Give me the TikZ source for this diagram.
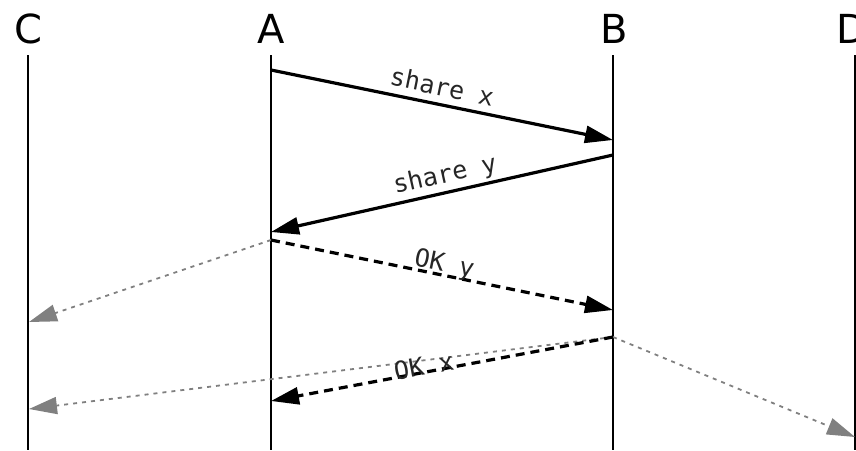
\documentclass[tikz,border=0pt]{standalone}
\usepackage{fontspec}
\setmainfont{DejaVu Sans}
\newfontfamily\monof{DejaVu Sans Mono}
\usetikzlibrary{arrows.meta}
\begin{document}
\begin{tikzpicture}[x=1pt,y=-1pt,
  head/.style={font=\fontsize{40}{44}\selectfont, inner sep=0pt},
  life/.style={line width=1.6pt},
  msg/.style={line width=3.2pt, -{Triangle[length=28pt,width=17pt]}},
  msgd/.style={msg, dash pattern=on 9pt off 6pt},
  echo/.style={line width=1.8pt, gray, dash pattern=on 4pt off 5pt, -{Triangle[length=28pt,width=17pt,fill=gray]}},
  lbl/.style={font=\monof\fontsize{25}{27}\selectfont, inner sep=1pt, text=black!85}]
\useasboundingbox (0,0) rectangle (856,450);
% headers
\node[head] (C) at (28,29) {C};
\node[head] (A) at (271,29) {A};
\node[head] (B) at (614,29) {B};
\node[head] (D) at (852,29) {D};
% lifelines
\coordinate (Ct) at (28,55); \coordinate (Cb) at (28,450);
\coordinate (At) at (271,55); \coordinate (Ab) at (271,450);
\coordinate (Bt) at (613,55); \coordinate (Bb) at (613,450);
\coordinate (Dt) at (855,55); \coordinate (Db) at (855,450);
\draw[life] (Ct) -- (Cb);
\draw[life] (At) -- (Ab);
\draw[life] (Bt) -- (Bb);
\draw[life] (Dt) -- (Db);
% message points
\coordinate (a1) at (271,70);  \coordinate (b1) at (613,140);
\coordinate (b2) at (613,155); \coordinate (a2) at (271,232);
\coordinate (a3) at (271,240); \coordinate (b3) at (613,310);
\coordinate (b4) at (613,337); \coordinate (a4) at (271,401);
\coordinate (c1) at (29,322);  \coordinate (c2) at (29,409);
\coordinate (d1) at (855,437);
% echoes
\draw[echo] (a3) -- (c1);
\draw[echo] (b4) -- (c2);
\draw[echo] (b4) -- (d1);
% messages
\draw[msg] (a1) -- node[lbl, sloped, above=6pt, pos=0.49] (lx) {share x} (b1);
\draw[msg] (b2) -- node[lbl, sloped, above=2pt, pos=0.48] (ly) {share y} (a2);
\draw[msgd] (a3) -- node[lbl, sloped, above=-4pt, pos=0.5] (lok1) {OK y} (b3);
\draw[msgd] (b4) -- node[lbl, sloped, above=-6pt, pos=0.55] (lok2) {OK x} (a4);
\end{tikzpicture}
\end{document}
